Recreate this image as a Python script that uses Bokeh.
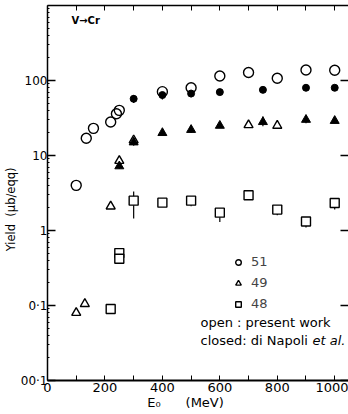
from bokeh.plotting import figure
from bokeh.models import (FixedTicker, LinearAxis, LogAxis, Label, Legend, LegendItem,
                          CustomJSTickFormatter)
from bokeh.embed import file_html
from bokeh.resources import INLINE

# ---- data: yields (ub/eqq) of Cr isotopes from V vs. bremsstrahlung end-point energy E0 (MeV)
# A = 51, present work (open circles)
e51_open = [100, 135, 160, 220, 240, 250, 400, 500, 600, 700, 800, 900, 1000]
y51_open = [4.0, 17, 23, 28, 36, 40, 71, 80, 115, 128, 107, 138, 137]
# A = 51, di Napoli et al. (closed)
e51_closed = [300, 400, 500, 600, 750, 900, 1000]
y51_closed = [57, 64, 67, 70, 75, 80, 80]
y51_closed_lo = [50, 56, 60, 64, 70, 75, 75]
y51_closed_hi = [64, 70, 72, 74, 79, 84, 84]

# A = 49, present work
e49_open = [100, 130, 220, 250, 300, 700, 800]
y49_open = [0.08, 0.105, 2.1, 8.5, 16, 25.5, 25]
# A = 49, di Napoli et al.
e49_closed = [250, 300, 400, 500, 600, 750, 900, 1000]
y49_closed = [7.2, 15, 20, 22, 25, 28, 30, 29]
y49_closed_lo = [6.6, 13.5, 18.5, 20, 23.5, 24.5, 27, 27]
y49_closed_hi = [7.8, 16.5, 22, 25, 26.5, 33, 34, 31]

# A = 48, present work
e48_open = [220, 250, 250, 300, 400, 500, 600, 700, 800, 900, 1000]
y48_open = [0.09, 0.50, 0.42, 2.5, 2.35, 2.5, 1.73, 2.95, 1.9, 1.32, 2.33]
y48_open_lo = [0.09, 0.50, 0.42, 1.45, 2.35, 2.1, 1.3, 2.95, 1.6, 1.1, 1.9]
y48_open_hi = [0.09, 0.50, 0.42, 3.3, 2.35, 2.8, 1.95, 2.95, 2.1, 1.45, 2.6]

x_ticks = [0, 100, 200, 300, 400, 500, 600, 700, 800, 900, 1000]
x_tick_labels = ["0", "", "200", "", "400", "", "600", "", "800", "", "1000"]
y_ticks = [0.01, 0.1, 1, 10, 100]
y_tick_labels = ["00·1", "0·1", "1", "10", "100"]
y_minor = [m * d for d in [0.01, 0.1, 1, 10, 100] for m in range(2, 10)]

FONT = "DejaVu Sans"
NB = "\u00a0"

p = figure(width=348, height=414, x_range=(0, 1048), y_range=(0.01, 1000),
           y_axis_type="log", output_backend="svg", toolbar_location=None,
           min_border_left=44, min_border_right=0, min_border_top=5,
           min_border_bottom=34)
p.outline_line_color = None
p.xgrid.visible = False
p.ygrid.visible = False
p.background_fill_color = "white"
p.border_fill_color = "white"

# bottom axis
xa = p.xaxis[0]
xa.ticker = FixedTicker(ticks=x_ticks)
xa.major_label_overrides = dict(zip(x_ticks, x_tick_labels))
xa.major_tick_in = 5
xa.major_tick_out = 0
xa.minor_tick_line_color = None
xa.axis_line_width = 2
xa.major_label_standoff = 2
xa.major_label_text_font = FONT
xa.major_label_text_font_size = "13px"
xa.major_label_text_color = "black"
xa.axis_label = "E₀" + NB * 6 + "(MeV)" + NB * 6
xa.axis_label_standoff = 0
xa.axis_label_text_font = FONT
xa.axis_label_text_font_size = "13px"
xa.axis_label_text_font_style = "normal"
xa.axis_label_text_color = "black"

# left axis
ya = p.yaxis[0]
ya.ticker = FixedTicker(ticks=y_ticks, minor_ticks=y_minor)
ya.major_label_overrides = dict(zip(y_ticks, y_tick_labels))
ya.major_tick_in = 8
ya.major_tick_out = 0
ya.major_tick_line_width = 1.5
ya.minor_tick_in = 2
ya.minor_tick_out = 0
ya.axis_line_width = 1.5
ya.major_label_standoff = 0
ya.major_label_text_font = FONT
ya.major_label_text_font_size = "12px"
ya.major_label_text_color = "black"
ya.axis_label = "Yield" + NB * 2 + "(μb/eqq)" + NB * 9
ya.axis_label_standoff = 0
ya.axis_label_text_font = FONT
ya.axis_label_text_font_size = "11.5px"
ya.axis_label_text_font_style = "normal"
ya.axis_label_text_color = "black"

# top and right frame ticks (no labels)
blank = CustomJSTickFormatter(code="return ''")
top = LinearAxis(ticker=FixedTicker(ticks=x_ticks), formatter=blank,
                 major_tick_in=5, major_tick_out=0, minor_tick_line_color=None,
                 major_label_standoff=0, axis_line_width=1.5)
p.add_layout(top, "above")
right = LogAxis(ticker=FixedTicker(ticks=y_ticks), formatter=blank,
                major_tick_in=8, major_tick_out=0, major_tick_line_width=1.5,
                minor_tick_line_color=None, major_label_standoff=0,
                axis_line_color=None)
p.add_layout(right, "right")

# error bars
p.segment(x0=e51_closed, y0=y51_closed_lo, x1=e51_closed, y1=y51_closed_hi,
          line_color="black", line_width=1.2)
p.segment(x0=e49_closed, y0=y49_closed_lo, x1=e49_closed, y1=y49_closed_hi,
          line_color="black", line_width=1.2)
p.segment(x0=e48_open, y0=y48_open_lo, x1=e48_open, y1=y48_open_hi,
          line_color="black", line_width=1.2)

# markers
r51o = p.scatter(e51_open, y51_open, marker="circle", size=10, fill_color=None,
                 line_color="black", line_width=1.4)
p.scatter(e51_closed, y51_closed, marker="circle", size=7, fill_color="black",
          line_color="black")
r49o = p.scatter(e49_open, y49_open, marker="triangle", size=9, fill_color=None,
                 line_color="black", line_width=1.4)
p.scatter(e49_closed, y49_closed, marker="triangle", size=9, fill_color="black",
          line_color="black")
r48o = p.scatter(e48_open, y48_open, marker="square", size=9, fill_color="white",
                 line_color="black", line_width=1.4)

legend = Legend(items=[LegendItem(label="51", renderers=[r51o]),
                       LegendItem(label="49", renderers=[r49o]),
                       LegendItem(label="48", renderers=[r48o])],
                location=(184, 69), padding=0, margin=0, spacing=6,
                glyph_width=14, glyph_height=14, label_height=14,
                label_standoff=6, border_line_color=None,
                background_fill_alpha=0, label_text_font=FONT,
                label_text_font_size="13px")
p.add_layout(legend, "center")

def note(text, x, y, size="13px", style="normal", align="left", angle=0):
    p.add_layout(Label(x=x, y=y, x_units="screen", y_units="screen", text=text,
                       text_font=FONT, text_font_size=size, text_font_style=style,
                       text_align=align, text_baseline="middle", angle=angle,
                       text_color="black"))

note("open : present work", 153, 58)
note("closed: di Napoli", 153, 40)
note("et al.", 265, 40, style="italic")
note("V→Cr", 24, 360, size="10px", style="bold")

open("out.html", "w").write(file_html(p, INLINE))
